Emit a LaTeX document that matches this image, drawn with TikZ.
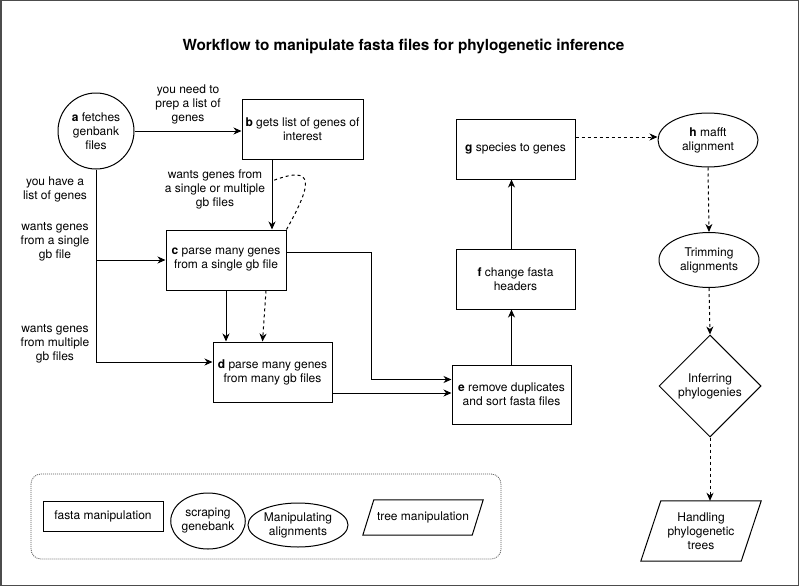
\documentclass[tikz,border=0pt]{standalone}
\usepackage{fontspec}
\setmainfont{TeX Gyre Heros}
\usetikzlibrary{arrows.meta,shapes.geometric,calc}
\begin{document}
\begin{tikzpicture}[x=1pt,y=-1pt,
  every node/.style={font=\fontsize{12}{14}\selectfont, align=center, inner sep=0pt},
  box/.style={draw, line width=1pt, rectangle, minimum width=120pt, minimum height=60pt},
  roundbox/.style={draw, line width=1pt, ellipse, minimum width=100pt, minimum height=54pt},
  lbl/.style={font=\fontsize{12}{14}\selectfont},
  arr/.style={line width=1pt, -{Stealth[length=8pt,width=7pt,inset=2.5pt]}},
  darr/.style={arr, dash pattern=on 3pt off 3pt},
]
\useasboundingbox (0,0) rectangle (799,586);
\draw[line width=1.5pt, gray!60!black] (0.75,0.75) rectangle (798.25,585.25);

% title
\node[font=\fontsize{15.3}{17}\selectfont\bfseries] (title) at (403.5,46) {Workflow to manipulate fasta files for phylogenetic inference};

% main nodes
\node[draw, line width=1pt, circle, minimum size=76pt] (a) at (96,131) {\textbf{a} fetches\\genbank\\files};
\node[box, minimum width=121pt] (b) at (302.5,129) {\textbf{b} gets list of genes of\\interest};
\node[box] (c) at (226,260) {\textbf{c} parse many genes\\from a single gb file};
\node[box, minimum width=119pt] (d) at (272.5,372) {\textbf{d} parse many genes\\from many gb files};
\node[box, minimum width=119pt, minimum height=59pt] (e) at (511.5,394.5) {\textbf{e} remove duplicates\\and sort fasta files};
\node[box, minimum width=119pt] (f) at (515.5,279) {\textbf{f} change fasta\\headers};
\node[box, minimum width=119pt] (g) at (515.5,149) {\textbf{g} species to genes};
\node[roundbox] (h) at (708,140) {\textbf{h} mafft\\alignment};
\node[roundbox, minimum height=55pt] (trim) at (709,260) {Trimming\\alignments};
\node[draw, line width=1pt, diamond, minimum width=102pt, minimum height=102pt] (infer) at (710,386) {Inferring\\phylogenies};
\node[minimum width=100pt, minimum height=60pt] (hand) at (701,531) {Handling\\phylogenetic\\trees};
\draw[line width=1pt] ($(hand.north west)+(10,0)$) -- ($(hand.north east)+(10,0)$)
  -- ($(hand.south east)+(-10,0)$) -- ($(hand.south west)+(-10,0)$) -- cycle;

% labels
\node[lbl] (l1) at (188,104) {you need to\\prep a list of\\genes};
\node[lbl] (l2) at (215,189) {wants genes from\\a single or multiple\\gb files};
\node[lbl] (l3) at (55,189) {you have a\\list of genes};
\node[lbl] (l4) at (55,242) {wants genes\\from a single\\gb file};
\node[lbl] (l5) at (55,344) {wants genes\\from multiple\\gb files};

% connectors
\draw[arr] (a.east) -- (a.east -| b.west);
\coordinate (bc) at ([xshift=-30.5]b.south);
\draw[arr] (bc) -- (bc |- c.north);
\coordinate (dw) at ([yshift=10]d.west);
\draw[arr] (a.south) |- (dw);
\draw[arr] (a.south |- c.west) -- (c.west);
\draw[arr] (c.south) -- (c.south |- d.north);
\draw[darr] ([xshift=40]c.south) -- ([xshift=-10]d.north);
\draw[line width=1pt, dash pattern=on 3pt off 3pt] (c.north east) .. controls (312,184) and (316,164) .. (272,181);
\coordinate (c1) at ([yshift=8]c.east);
\coordinate (e1) at ([yshift=15]e.west);
\coordinate (elb) at (371,0);
\draw[arr] (c1) -| (elb |- e1) -- (e1);
\coordinate (d1) at ([yshift=-21]d.east);
\draw[arr] (d1) -- (d1 -| e.west);
\draw[arr] (e.north) -- (e.north |- f.south);
\draw[arr] (e.north |- f.north) -- (e.north |- g.south);
\coordinate (g1) at ([yshift=12]g.east);
\draw[darr] (g1) -- (g1 -| h.west);
\draw[darr] (h.south) -- (trim.north);
\draw[darr] (trim.south) -- (infer.north);
\draw[darr] (infer.south) -- (infer.south |- hand.north);

% legend
\draw[gray!70!black, line width=0.8pt, dash pattern=on 1pt off 1pt, rounded corners=10pt] (31,474) rectangle (501,559);
\node[box, minimum width=120pt, minimum height=30pt] (lf) at (103,516) {fasta manipulation};
\node[draw, line width=1pt, ellipse, minimum width=64pt, minimum height=56pt] (lc) at (208,521) {scraping\\genebank};
\node[draw, line width=1pt, ellipse, minimum width=100pt, minimum height=44pt] (le) at (298,525) {Manipulating\\alignments};
\node[minimum width=109pt, minimum height=35pt] (lp) at (423,517.5) {tree manipulation};
\draw[line width=1pt] ($(lp.north west)+(5.5,0)$) -- ($(lp.north east)+(5.5,0)$)
  -- ($(lp.south east)+(-5.5,0)$) -- ($(lp.south west)+(-5.5,0)$) -- cycle;
\end{tikzpicture}
\end{document}
